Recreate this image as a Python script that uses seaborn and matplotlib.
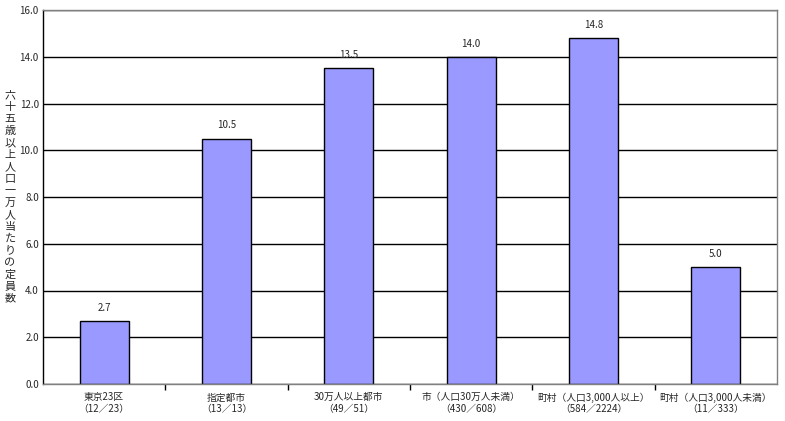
import pandas as pd
import seaborn as sns
import matplotlib.pyplot as plt
from matplotlib.ticker import FixedLocator

# Data
categories = ['東京23区\n（12／23）', '指定都市\n（13／13）', '30万人以上都市\n（49／51）',
              '市（人口30万人未満）\n（430／608）', '町村（人口3,000人以上）\n（584／2224）',
              '町村（人口3,000人未満）\n（11／333）']
values = [2.7, 10.5, 13.5, 14.0, 14.8, 5.0]
ylabel = '六十五歳以上人口一万人当たりの定員数'

df = pd.DataFrame({'category': categories, 'value': values})

sns.set_style('white')
plt.rcParams['font.family'] = ['Noto Sans CJK JP', 'DejaVu Sans']

fig = plt.figure(figsize=(7.85, 4.21), dpi=100)
ax = fig.add_axes([43 / 785, 1 - 384 / 421, (777 - 43) / 785, (384 - 10) / 421])

sns.barplot(data=df, x='category', y='value', color='#9999FF', saturation=1,
            edgecolor='black', linewidth=1, width=0.4, ax=ax)

ax.set_ylim(0, 16)
ax.set_xlim(-0.5, len(values) - 0.5)
ax.set_yticks([i * 2 for i in range(9)])
ax.set_yticklabels([f'{i * 2:.1f}' for i in range(9)], fontsize=7)
ax.yaxis.grid(True, color='black', linewidth=1)
ax.set_axisbelow(True)

ax.tick_params(axis='x', which='major', length=0, labelsize=7, pad=6)
ax.tick_params(axis='y', length=0, pad=3)
ax.xaxis.set_minor_locator(FixedLocator([i + 0.5 for i in range(len(values) - 1)]))
ax.tick_params(axis='x', which='minor', bottom=True, length=4, width=1,
               color='black', direction='out')
ax.set_xlabel('')
ax.set_ylabel('')

for s in ['top', 'right', 'bottom']:
    ax.spines[s].set_color('#808080')
ax.spines['left'].set_color('black')
for s in ax.spines.values():
    s.set_linewidth(1)

for i, v in enumerate(values):
    ax.text(i, v + 0.35, f'{v:.1f}', ha='center', va='bottom', fontsize=7)

fig.text(10 / 785, 1 - 197 / 421, '\n'.join(ylabel), ha='center', va='center',
         fontsize=8, linespacing=1.24)

plt.savefig('out.png', dpi=100)
